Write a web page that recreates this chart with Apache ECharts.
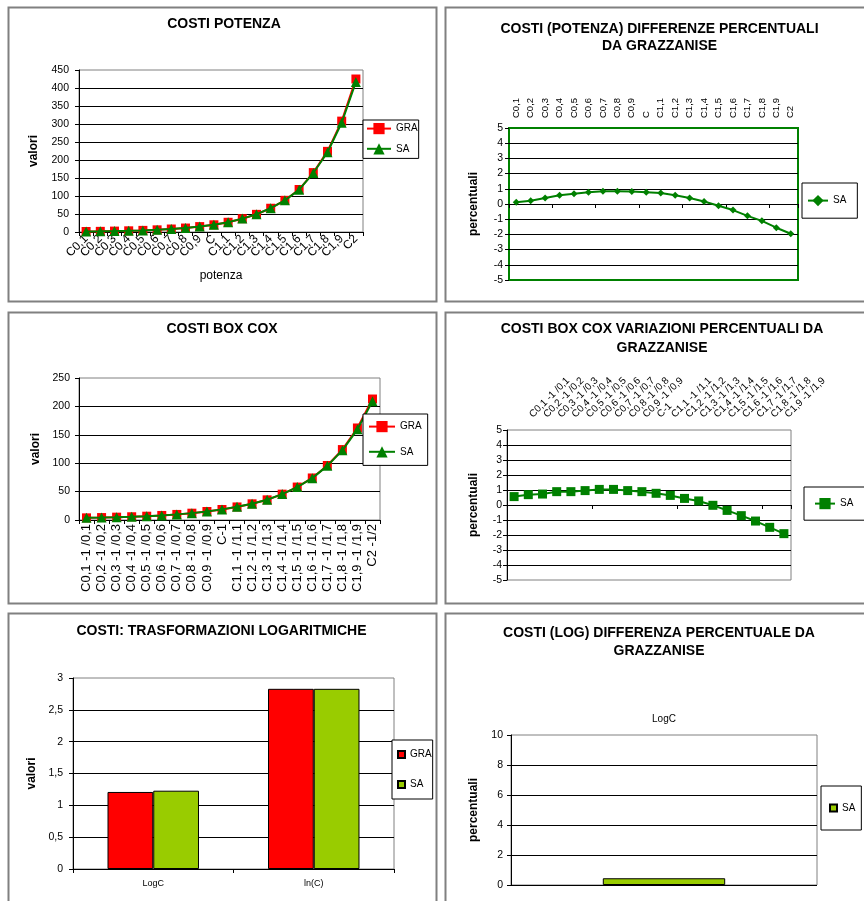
<!DOCTYPE html>
<html><head><meta charset="utf-8">
<script src="https://cdn.jsdelivr.net/npm/echarts@6/dist/echarts.min.js"></script>
<style>
html,body{margin:0;padding:0;background:#fff;}
body{width:864px;height:901px;overflow:hidden;position:relative;}
.p{position:absolute;}
</style></head><body>
<div id="c1" class="p"></div>
<div id="c2" class="p"></div>
<div id="c3" class="p"></div>
<div id="c4" class="p"></div>
<div id="c5" class="p"></div>
<div id="c6" class="p"></div>
<script>
// ---------------- DATA ----------------
const potenzaCats = ['C0,1','C0,2','C0,3','C0,4','C0,5','C0,6','C0,7','C0,8','C0,9','C','C1,1','C1,2','C1,3','C1,4','C1,5','C1,6','C1,7','C1,8','C1,9','C2'];
const potenzaGRA = [1.4, 1.8, 2.5, 3.3, 4.5, 6, 8.3, 11, 15, 20, 27, 37, 49, 66, 88, 118, 165, 224, 308, 425];
const potenzaSA  = [1.4, 1.8, 2.5, 3.3, 4.5, 6.1, 8.4, 11.1, 15.1, 20.2, 27.2, 37.2, 49.2, 66.1, 87.9, 117.5, 163.8, 221.5, 303.4, 416.7];
const potenzaDiffSA = [0.11, 0.22, 0.4, 0.58, 0.67, 0.78, 0.84, 0.84, 0.82, 0.78, 0.73, 0.58, 0.4, 0.16, -0.11, -0.4, -0.78, -1.11, -1.56, -1.96];

const boxcoxCats = ['C0,1 -1 /0,1','C0,2 -1 /0,2','C0,3 -1 /0,3','C0,4 -1 /0,4','C0,5 -1 /0,5','C0,6 -1 /0,6','C0,7 -1 /0,7','C0,8 -1 /0,8','C0,9 -1 /0,9','C-1','C1,1 -1 /1,1','C1,2 -1 /1,2','C1,3 -1 /1,3','C1,4 -1 /1,4','C1,5 -1 /1,5','C1,6 -1 /1,6','C1,7 -1 /1,7','C1,8 -1 /1,8','C1,9 -1 /1,9','C2 -1/2'];
const boxcoxGRA = [3.8, 4.3, 5, 5.7, 6.7, 8, 9.8, 12, 15, 18.5, 23, 28.5, 35.5, 45.5, 58, 74, 96, 124, 162, 213];
const boxcoxSA  = [3.8, 4.3, 5.0, 5.8, 6.8, 8.1, 9.9, 12.1, 15.1, 18.7, 23.2, 28.7, 35.7, 45.6, 58, 73.7, 95.3, 122.7, 159.6, 208.9];
const boxcoxDiffSA = [0.56, 0.69, 0.73, 0.89, 0.89, 0.96, 1.04, 1.04, 0.96, 0.89, 0.78, 0.64, 0.44, 0.27, -0.02, -0.36, -0.71, -1.07, -1.49, -1.91];

const logCats = ['LogC', 'ln(C)'];
const logGRA = [1.21, 2.83];
const logSA  = [1.23, 2.83];

const logDiffCats = ['LogC'];
const logDiffSA = [0.45];

const titles = {
  p1: 'COSTI POTENZA',
  p2: 'COSTI (POTENZA) DIFFERENZE PERCENTUALI\nDA GRAZZANISE',
  p3: 'COSTI BOX COX',
  p4: 'COSTI BOX COX VARIAZIONI PERCENTUALI DA\nGRAZZANISE',
  p5: 'COSTI: TRASFORMAZIONI LOGARITMICHE',
  p6: 'COSTI (LOG) DIFFERENZA PERCENTUALE DA\nGRAZZANISE'
};

// ---------------- HELPERS ----------------
const FF = '"Liberation Sans", Arial, Helvetica, sans-serif';
const RED = '#FF0000', GREEN = '#008000', LIME = '#99CC00', GRAY = '#808080';

function panel(id, left, top, w, h, opt) {
  const el = document.getElementById(id);
  el.style.left = left + 'px'; el.style.top = top + 'px';
  el.style.width = w + 'px'; el.style.height = h + 'px';
  const ch = echarts.init(el, null, {renderer: 'canvas'});
  opt.animation = false;
  opt.backgroundColor = '#fff';
  opt.textStyle = {fontFamily: FF, color: '#000'};
  opt.graphic = (opt.graphic || []).concat([{
    type: 'rect', silent: true, z: 100,
    shape: {x: 1.5, y: 1.5, width: w - 3, height: h - 3},
    style: {fill: 'none', stroke: GRAY, lineWidth: 2}
  }]);
  ch.setOption(opt);
}
function mkTitle(text, x, top, lh) {
  return {text: text, left: x, top: top, textAlign: 'center', padding: 0,
    textStyle: {fontFamily: FF, fontSize: 14, fontWeight: 'bold', color: '#000', lineHeight: lh || 17}};
}
function mkGrid(l, t, w, h, border, bw) {
  return {left: l, top: t, width: w, height: h, show: true, borderColor: border || GRAY,
    borderWidth: bw || 1, backgroundColor: 'transparent', containLabel: false, outerBoundsMode: 'none'};
}
function vAxis(min, max, interval, name, nameGap, margin, opts) {
  opts = opts || {};
  return {
    type: 'value', min: min, max: max, interval: interval,
    name: name, nameLocation: 'middle', nameRotate: 90, nameGap: nameGap,
    nameTextStyle: {fontFamily: FF, fontSize: 12, fontWeight: 'bold', color: '#000'},
    axisLine: {show: opts.line !== false, lineStyle: {color: '#000', width: 1}},
    axisTick: {show: true, length: 4, lineStyle: {color: '#000', width: 1}},
    axisLabel: {margin: margin, fontFamily: FF, fontSize: 10.5, color: '#000', formatter: opts.formatter},
    splitLine: {show: true, showMaxLine: false, showMinLine: opts.minLine !== false, lineStyle: {color: '#000', width: 1}}
  };
}
function mkLegend(l, t, pad, gap, iw, ih, names) {
  return {orient: 'vertical', left: l, top: t, padding: pad, itemGap: gap, itemWidth: iw, itemHeight: ih,
    borderColor: '#000', borderWidth: 1, backgroundColor: '#fff', borderRadius: 0, selectedMode: false,
    textStyle: {fontFamily: FF, fontSize: 10, color: '#000'}, data: names};
}
function lineSeries(name, data, color, symbol, size, z) {
  return {type: 'line', name: name, data: data, symbol: symbol, symbolSize: size, z: z,
    lineStyle: {color: color, width: 2}, itemStyle: {color: color, borderColor: color, borderWidth: 0}};
}
// hide the label of the last category (the reference does not print it)
const notLast = function (arr) { return function (i) { return i < arr.length - 1; }; };

// ---------------- PANEL 1 ----------------
panel('c1', 7, 6, 431, 297, {
  title: [mkTitle(titles.p1, 217, 9.5)],
  grid: mkGrid(72, 64, 284, 162),
  xAxis: {type: 'category', data: potenzaCats, boundaryGap: true,
    name: 'potenza', nameLocation: 'middle', nameGap: 38,
    nameTextStyle: {fontFamily: FF, fontSize: 12, color: '#000'},
    axisLine: {lineStyle: {color: '#000'}}, axisTick: {show: true, length: 4, lineStyle: {color: '#000'}},
    axisLabel: {rotate: 45, interval: 0, fontFamily: FF, fontSize: 12, color: '#000', margin: 5}},
  yAxis: vAxis(0, 450, 50, 'valori', 39, 10),
  legend: mkLegend(356, 114, [3, 1, 4, 3], 9, 24, 14, ['GRA', 'SA']),
  series: [lineSeries('GRA', potenzaGRA, RED, 'rect', 9, 2), lineSeries('SA', potenzaSA, GREEN, 'triangle', 10, 3)]
});

// ---------------- PANEL 2 ----------------
panel('c2', 444, 6, 426, 297, {
  title: [mkTitle(titles.p2, 215.5, 14.5, 17)],
  grid: mkGrid(65, 122, 289, 152, GREEN, 2),
  xAxis: [
    {type: 'category', position: 'top', data: potenzaCats,
      axisLine: {show: false, onZero: false}, axisTick: {show: false},
      axisLabel: {rotate: -90, interval: 0, fontFamily: FF, fontSize: 9.5, color: '#000', margin: 10}},
    {type: 'category', position: 'bottom', data: potenzaCats,
      axisLine: {show: true, onZero: true, lineStyle: {color: '#000'}},
      axisTick: {show: true, length: 4, lineStyle: {color: '#000'}}, axisLabel: {show: false}}
  ],
  yAxis: vAxis(-5, 5, 1, 'percentuali', 29, 6, {line: false, minLine: false}),
  legend: mkLegend(358, 177, [12, 11, 12, 5], 10, 20, 14, ['SA']),
  series: [Object.assign(lineSeries('SA', potenzaDiffSA, GREEN, 'diamond', 7, 3), {xAxisIndex: 1})]
});

// ---------------- PANEL 3 ----------------
panel('c3', 7, 311, 431, 294, {
  title: [mkTitle(titles.p3, 215, 9.5)],
  grid: mkGrid(72, 67, 301, 142),
  xAxis: {type: 'category', data: boxcoxCats, boundaryGap: true,
    axisLine: {lineStyle: {color: '#000'}}, axisTick: {show: true, length: 4, lineStyle: {color: '#000'}},
    axisLabel: {rotate: 90, interval: 0, fontFamily: FF, fontSize: 13, color: '#000', margin: 4}},
  yAxis: vAxis(0, 250, 50, 'valori', 36, 9),
  legend: mkLegend(356, 103, [7, 6, 8, 5], 14, 26, 14, ['GRA', 'SA']),
  series: [lineSeries('GRA', boxcoxGRA, RED, 'rect', 9, 2), lineSeries('SA', boxcoxSA, GREEN, 'triangle', 10, 3)]
});

// ---------------- PANEL 4 ----------------
panel('c4', 444, 311, 426, 294, {
  title: [mkTitle(titles.p4, 218, 8.5, 19)],
  grid: mkGrid(63, 119, 284, 150),
  xAxis: [
    {type: 'category', position: 'top', data: boxcoxCats,
      axisLine: {show: false, onZero: false}, axisTick: {show: false},
      axisLabel: {rotate: -45, interval: notLast(boxcoxCats), fontFamily: FF, fontSize: 10, color: '#000', margin: -3, padding: [0, 0, 0, 24]}},
    {type: 'category', position: 'bottom', data: boxcoxCats,
      axisLine: {show: true, onZero: true, lineStyle: {color: '#000'}},
      axisTick: {show: true, length: 4, lineStyle: {color: '#000'}}, axisLabel: {show: false}}
  ],
  yAxis: vAxis(-5, 5, 1, 'percentuali', 27, 5, {minLine: false}),
  legend: mkLegend(360, 176, [11, 14, 11, 10], 10, 20, 14, ['SA']),
  series: [Object.assign(lineSeries('SA', boxcoxDiffSA, GREEN, 'rect', 9, 3), {xAxisIndex: 1})]
});

// ---------------- PANEL 5 ----------------
const commaFmt = function (v) { return String(v).replace('.', ','); };
panel('c5', 7, 612, 431, 300, {
  title: [mkTitle(titles.p5, 214.5, 10.5)],
  grid: mkGrid(66, 66, 321, 191),
  xAxis: {type: 'category', data: logCats,
    axisLine: {lineStyle: {color: '#000'}}, axisTick: {show: true, length: 4, lineStyle: {color: '#000'}},
    axisLabel: {interval: 0, fontFamily: FF, fontSize: 9, color: '#000', margin: 10}},
  yAxis: vAxis(0, 3, 0.5, 'valori', 28, 10, {formatter: commaFmt}),
  legend: Object.assign(mkLegend(385, 128, [9.5, 1, 9.5, 5], 20, 7, 7, ['GRA', 'SA']), {icon: 'rect'}),
  series: [
    {type: 'bar', name: 'GRA', data: logGRA, barGap: '0%', barCategoryGap: '43%',
      itemStyle: {color: RED, borderColor: '#000', borderWidth: 1}},
    {type: 'bar', name: 'SA', data: logSA, barGap: '0%', barCategoryGap: '43%',
      itemStyle: {color: LIME, borderColor: '#000', borderWidth: 1}}
  ]
});

// ---------------- PANEL 6 ----------------
panel('c6', 444, 612, 426, 300, {
  title: [mkTitle(titles.p6, 215, 12, 18)],
  grid: mkGrid(67, 123, 306, 150),
  xAxis: {type: 'category', position: 'top', data: logDiffCats,
    axisLine: {show: false, onZero: false}, axisTick: {show: false},
    axisLabel: {interval: 0, fontFamily: FF, fontSize: 10, color: '#000', margin: 11}},
  yAxis: vAxis(0, 10, 2, 'percentuali', 31, 8),
  legend: Object.assign(mkLegend(377, 174, [17, 6, 17, 8], 10, 7, 7, ['SA']), {icon: 'rect'}),
  series: [
    {type: 'bar', name: 'SA', data: logDiffSA, barCategoryGap: '60%',
      itemStyle: {color: LIME, borderColor: '#000', borderWidth: 1}}
  ]
});
</script>
</body></html>
